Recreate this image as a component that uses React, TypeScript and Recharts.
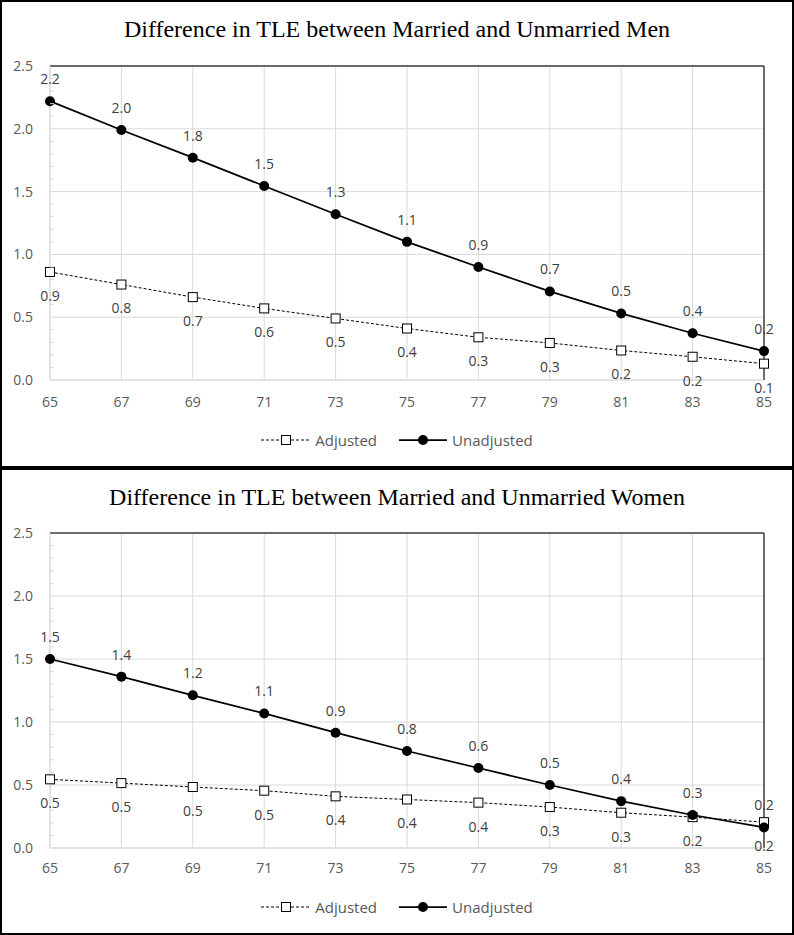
import React from 'react';
import { LineChart, Line, XAxis, YAxis, CartesianGrid, ReferenceLine, LabelList, Legend } from 'recharts';

const ages = [65, 67, 69, 71, 73, 75, 77, 79, 81, 83, 85];
const menAdjusted = [0.86, 0.76, 0.66, 0.57, 0.49, 0.41, 0.34, 0.295, 0.235, 0.185, 0.13];
const menUnadjusted = [2.22, 1.99, 1.77, 1.545, 1.32, 1.1, 0.9, 0.705, 0.53, 0.372, 0.23];
const womenAdjusted = [0.545, 0.515, 0.484, 0.455, 0.41, 0.385, 0.36, 0.325, 0.28, 0.245, 0.205];
const womenUnadjusted = [1.5, 1.36, 1.212, 1.068, 0.915, 0.77, 0.635, 0.5, 0.372, 0.262, 0.163];

const yTicks = [0, 0.1, 0.2, 0.3, 0.4, 0.5, 0.6, 0.7, 0.8, 0.9, 1, 1.1, 1.2, 1.3, 1.4, 1.5, 1.6, 1.7, 1.8, 1.9, 2, 2.1, 2.2, 2.3, 2.4, 2.5];
const yMajor = [0, 0.5, 1, 1.5, 2, 2.5];

const seriesNames = { adj: 'Adjusted', unadj: 'Unadjusted' };
const titles = {
  men: 'Difference in TLE between Married and Unmarried Men',
  women: 'Difference in TLE between Married and Unmarried Women',
};

const FONT = '"Open Sans", "Liberation Sans", sans-serif';
const GRID = '#d9d9d9';
const TXT = '#595959';
const LBL = '#404040';

const buildData = (adj: number[], unadj: number[]) =>
  ages.map((a, i) => ({ age: a, adj: adj[i], unadj: unadj[i] }));

const YTick = (props: any) => {
  const { x, y, payload } = props;
  const v = payload.value as number;
  const major = yMajor.some((m) => Math.abs(m - v) < 1e-6);
  const ax = x + 17;
  if (!major) {
    return <line x1={ax} x2={ax + 4} y1={y} y2={y} stroke={GRID} strokeWidth={1} />;
  }
  return (
    <text x={x} y={y} dy="0.355em" textAnchor="end" fill={TXT} fontSize={14} fontFamily={FONT}>
      {v.toFixed(1)}
    </text>
  );
};

const SquareDot = (props: any) => {
  const { cx, cy, index } = props;
  if (cx == null || cy == null) return <g key={`sq-${index}`} />;
  return (
    <rect key={`sq-${index}`} x={cx - 4.5} y={cy - 4.5} width={9} height={9} fill="#ffffff" stroke="#000000" strokeWidth={1} />
  );
};

const LegendContent = () => (
  <div
    style={{
      display: 'flex',
      justifyContent: 'center',
      alignItems: 'center',
      height: 20,
      fontFamily: FONT,
      fontSize: 15,
      color: TXT,
    }}
  >
    <svg width={50} height={14} style={{ display: 'block' }}>
      <line x1={0} x2={50} y1={7} y2={7} stroke="#000" strokeWidth={1} strokeDasharray="3 2" />
      <rect x={20.5} y={2.5} width={9} height={9} fill="#fff" stroke="#000" strokeWidth={1} />
    </svg>
    <span style={{ marginLeft: 4 }}>{seriesNames.adj}</span>
    <svg width={48} height={14} style={{ display: 'block', marginLeft: 22 }}>
      <line x1={0} x2={48} y1={7} y2={7} stroke="#000" strokeWidth={1.75} />
      <circle cx={24} cy={7} r={5} fill="#000" />
    </svg>
    <span style={{ marginLeft: 5 }}>{seriesNames.unadj}</span>
  </div>
);

const fmt = (v: any) => (typeof v === 'number' ? v.toFixed(1) : v);

const Panel = ({
  top,
  height,
  title,
  adj,
  unadj,
  marginTop,
  xAxisHeight,
  xTickMargin,
}: {
  top: number;
  height: number;
  title: string;
  adj: number[];
  unadj: number[];
  marginTop: number;
  xAxisHeight: number;
  xTickMargin: number;
}) => {
  const data = buildData(adj, unadj);
  return (
    <>
      <div
        style={{
          position: 'absolute',
          left: 0,
          top,
          width: 794,
          height,
          border: '2px solid #000',
          boxSizing: 'border-box',
          background: '#fff',
        }}
      />
      <div
        style={{
          position: 'absolute',
          left: 0,
          top: top + 17,
          width: 794,
          textAlign: 'center',
          fontFamily: '"Liberation Serif", "Times New Roman", serif',
          fontSize: 24,
          lineHeight: '24px',
          color: '#000',
        }}
      >
        {title}
      </div>
      <div style={{ position: 'absolute', left: 0, top, width: 794, height }}>
        <LineChart
          width={794}
          height={height}
          data={data}
          margin={{ top: marginTop, right: 30, bottom: 18, left: 0 }}
        >
          <CartesianGrid stroke={GRID} strokeWidth={1} horizontalValues={yMajor} />
          <XAxis
            dataKey="age"
            type="number"
            domain={[65, 85]}
            ticks={ages}
            interval={0}
            tickLine={false}
            tickSize={0}
            tickMargin={xTickMargin}
            axisLine={{ stroke: GRID, strokeWidth: 1 }}
            tick={{ fill: TXT, fontSize: 14, fontFamily: FONT }}
            height={xAxisHeight}
          />
          <YAxis
            type="number"
            domain={[0, 2.5]}
            ticks={yTicks}
            interval={0}
            tickLine={false}
            tickSize={0}
            tickMargin={17}
            axisLine={{ stroke: GRID, strokeWidth: 1 }}
            tick={<YTick />}
            width={50}
          />
          <ReferenceLine y={2.5} stroke="#404040" strokeWidth={1.5} />
          <ReferenceLine x={85} stroke="#404040" strokeWidth={1.5} />
          <Line
            dataKey="adj"
            name={seriesNames.adj}
            stroke="#000"
            strokeWidth={1}
            strokeDasharray="3 2"
            dot={<SquareDot />}
            activeDot={false}
            isAnimationActive={false}
          >
            <LabelList
              dataKey="adj"
              position="bottom"
              offset={19}
              formatter={fmt}
              fill={LBL}
              fontSize={14}
              fontFamily={FONT}
            />
          </Line>
          <Line
            dataKey="unadj"
            name={seriesNames.unadj}
            stroke="#000"
            strokeWidth={1.75}
            dot={{ r: 5, fill: '#000', stroke: '#000', strokeWidth: 0 }}
            activeDot={false}
            isAnimationActive={false}
          >
            <LabelList
              dataKey="unadj"
              position="top"
              offset={17}
              formatter={fmt}
              fill={LBL}
              fontSize={14}
              fontFamily={FONT}
            />
          </Line>
          <Legend
            verticalAlign="bottom"
            content={<LegendContent />}
            wrapperStyle={{ left: 0, width: 794, height: 20 }}
          />
        </LineChart>
      </div>
    </>
  );
};

export default function App() {
  return (
    <div style={{ position: 'absolute', left: 0, top: 0, width: 794, height: 935, background: '#fff' }}>
      <Panel
        top={0}
        height={468}
        title={titles.men}
        adj={menAdjusted}
        unadj={menUnadjusted}
        marginTop={66}
        xAxisHeight={50}
        xTickMargin={17}
      />
      <Panel
        top={468}
        height={467}
        title={titles.women}
        adj={womenAdjusted}
        unadj={womenUnadjusted}
        marginTop={65}
        xAxisHeight={49}
        xTickMargin={15}
      />
    </div>
  );
}
